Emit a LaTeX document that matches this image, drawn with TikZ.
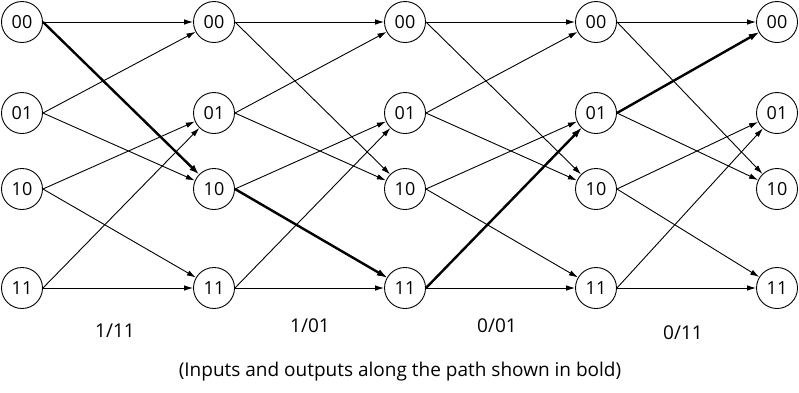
\documentclass[tikz,border=0pt]{standalone}
\usepackage{fontspec}
\setmainfont{Open Sans}
\usetikzlibrary{arrows.meta}
\begin{document}
\begin{tikzpicture}[x=1pt,y=-1pt,
  st/.style={circle,draw,line width=0.9pt,minimum size=41pt,inner sep=0pt,font=\fontsize{18}{18}\selectfont},
  tr/.style={line width=0.9pt,-{Latex[length=9pt,width=5.5pt]}},
  bold/.style={line width=2.4pt,-{Latex[length=10pt,width=7pt]}},
  lab/.style={font=\fontsize{19}{19}\selectfont}]
\useasboundingbox (0,0) rectangle (799,392);
\foreach \c/\x in {1/22,2/214,3/405,4/596,5/777}{
  \node[st] (n\c00) at (\x,22) {00};
  \node[st] (n\c01) at (\x,113) {01};
  \node[st] (n\c10) at (\x,189) {10};
  \node[st] (n\c11) at (\x,288) {11};
}
\foreach \a/\b in {1/2,2/3,3/4,4/5}{
  \draw[tr] (n\a00.east) -- (n\b00);
  \draw[tr] (n\a01.east) -- (n\b00);
  \draw[tr] (n\a01.east) -- (n\b10);
  \draw[tr] (n\a10.east) -- (n\b01);
  \draw[tr] (n\a10.east) -- (n\b11);
  \draw[tr] (n\a11.east) -- (n\b01);
  \draw[tr] (n\a11.east) -- (n\b11);
}
\draw[tr] (n200.east) -- (n310);
\draw[tr] (n300.east) -- (n410);
\draw[tr] (n400.east) -- (n510);
\draw[bold] (n100.east) -- (n210);
\draw[bold] (n210.east) -- (n311);
\draw[bold] (n311.east) -- (n401);
\draw[bold] (n401.east) -- (n500);
\node[lab] (l1) at (115,331) {1/11};
\node[lab] (l2) at (310,326) {1/01};
\node[lab] (l3) at (497,326) {0/01};
\node[lab] (l4) at (683,333) {0/11};
\node[lab] (cap) at (400,372) {(Inputs and outputs along the path shown in bold)};
\end{tikzpicture}
\end{document}
